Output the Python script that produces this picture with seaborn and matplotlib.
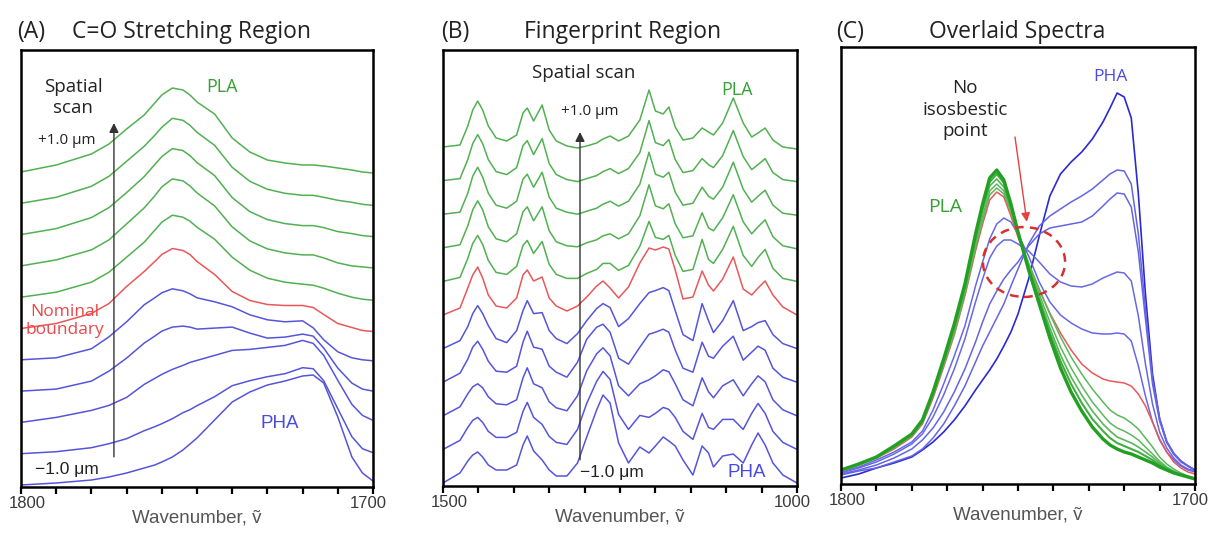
import matplotlib
matplotlib.use("Agg")
import matplotlib.pyplot as plt
from matplotlib.patches import Ellipse
from matplotlib.transforms import ScaledTranslation
import seaborn as sns
import pandas as pd

# ---------------- data ----------------
# (A) C=O stretching region, stacked spectra, heights above each trace's own baseline
wn_a = [1800, 1790, 1780, 1775, 1770, 1765, 1762, 1760, 1757, 1754, 1752, 1750,
        1745, 1740, 1735, 1730, 1725, 1720, 1717, 1714, 1710, 1706, 1703, 1700]
a_pha_1 = [0, 2, 5, 8, 12, 17, 20, 23, 28, 35, 41, 47, 65, 83, 93, 100, 104, 109, 110, 102, 68, 28, 12, 4]
a_pha_2 = [0, 2, 6, 10, 15, 23, 27, 30, 35, 41, 44, 48, 57, 68, 73, 77, 80, 86, 85, 73, 45, 17, 5, 1]
a_pha_3 = [0, 5, 12, 17, 25, 38, 44, 48, 53, 57, 60, 62, 67, 72, 73, 75, 77, 82, 79, 67, 42, 18, 7, 2]
a_pha_4 = [0, 2, 10, 20, 33, 48, 55, 60, 64, 65, 64, 62, 63, 64, 58, 53, 54, 57, 55, 43, 23, 8, 2, 0]
a_pha_5 = [0, 2, 11, 23, 38, 55, 62, 67, 71, 69, 66, 62, 58, 53, 45, 40, 38, 39, 32, 20, 8, 2, 0, -1]
a_bound = [0, 5, 15, 25, 42, 57, 67, 74, 80, 78, 74, 67, 54, 37, 28, 24, 23, 23, 21, 14, 5, 1, -2, -3]
a_pla_1 = [0, 5, 15, 25, 40, 55, 67, 75, 82, 80, 76, 70, 58, 40, 27, 19, 15, 13, 12, 9, 4, 0, -2, -3]
a_pla_2 = [0, 6, 16, 26, 42, 58, 70, 79, 87, 85, 80, 73, 60, 39, 25, 17, 13, 11, 11, 8, 3, 0, -1, -2]
a_pla_3 = [0, 6, 17, 27, 42, 58, 70, 78, 86, 84, 79, 72, 59, 37, 23, 15, 11, 9, 9, 7, 3, 1, -1, -2]
a_pla_4 = [0, 6, 17, 27, 42, 57, 68, 76, 85, 83, 78, 71, 58, 36, 22, 14, 10, 8, 8, 6, 3, 1, -1, -2]
a_pla_5 = [0, 7, 18, 28, 43, 57, 69, 77, 84, 82, 77, 70, 58, 34, 20, 12, 9, 7, 7, 6, 4, 2, 0, -1]

# (B) fingerprint region, stacked spectra
wn_b = [1500, 1476, 1465, 1458, 1451, 1444, 1436, 1425, 1410, 1396, 1387, 1381, 1372, 1360, 1350,
        1340, 1325, 1310, 1297, 1283, 1274, 1264, 1252, 1238, 1222, 1209, 1200, 1189, 1181, 1172,
        1161, 1147, 1134, 1125, 1118, 1105, 1090, 1076, 1064, 1055, 1045, 1034, 1020, 1000]
b_pha_1 = [0, 10, 22, 28, 31, 26, 18, 13, 13, 18, 38, 47, 32, 23, 13, 7, 7, 20, 46, 73, 88, 80,
           40, 20, 36, 30, 37, 46, 42, 37, 23, 8, 37, 30, 16, 27, 29, 20, 38, 50, 38, 20, 8, 0]
b_pha_2 = [0, 9, 22, 29, 32, 27, 18, 12, 12, 17, 38, 47, 32, 25, 13, 7, 5, 20, 46, 68, 78, 70,
           35, 20, 34, 32, 36, 42, 40, 32, 18, 10, 36, 22, 20, 30, 30, 20, 36, 46, 36, 18, 7, 0]
b_pha_3 = [0, 9, 22, 29, 32, 28, 19, 12, 11, 16, 38, 48, 32, 28, 14, 8, 5, 20, 45, 62, 68, 60,
           30, 20, 32, 36, 40, 46, 44, 32, 16, 10, 38, 24, 18, 30, 36, 20, 32, 40, 34, 16, 6, 0]
b_pha_4 = [0, 9, 23, 35, 41, 33, 21, 11, 10, 16, 40, 51, 35, 33, 16, 10, 5, 20, 43, 55, 58, 50,
           24, 18, 35, 48, 50, 53, 50, 32, 14, 10, 40, 26, 24, 36, 46, 22, 30, 36, 32, 14, 5, 0]
b_pha_5 = [0, 8, 22, 35, 43, 35, 23, 10, 6, 18, 38, 48, 35, 36, 18, 10, 5, 15, 28, 40, 45, 41,
           22, 30, 45, 56, 58, 61, 58, 38, 14, 8, 45, 28, 16, 28, 48, 18, 22, 26, 28, 14, 5, 0]
b_bound = [0, 7, 27, 40, 48, 37, 20, 9, 7, 17, 40, 45, 34, 38, 17, 9, 4, 9, 18, 29, 34, 27,
           17, 28, 52, 67, 65, 68, 66, 45, 16, 18, 44, 30, 24, 36, 58, 26, 20, 27, 34, 20, 8, 0]
b_pla_1 = [0, 4, 23, 38, 46, 37, 21, 9, 7, 15, 36, 41, 28, 40, 17, 7, 3, 3, 8, 12, 18, 18,
           11, 16, 35, 60, 44, 42, 46, 26, 10, 12, 42, 22, 18, 32, 55, 26, 15, 24, 32, 13, 3, 0]
b_pla_2 = [0, 3, 22, 38, 47, 38, 21, 9, 6, 14, 36, 41, 27, 41, 17, 6, 2, 1, 5, 8, 12, 14,
           9, 14, 32, 63, 42, 39, 44, 24, 10, 12, 35, 20, 17, 30, 53, 26, 14, 21, 28, 11, 2, -1]
b_pla_3 = [0, 2, 21, 38, 47, 37, 21, 9, 6, 13, 35, 40, 27, 42, 17, 6, 2, 0, 3, 6, 10, 13,
           8, 13, 30, 62, 40, 37, 42, 22, 9, 11, 27, 18, 15, 27, 52, 25, 12, 18, 24, 9, 1, -1]
b_pla_4 = [0, 2, 21, 37, 46, 37, 21, 9, 6, 13, 35, 40, 26, 42, 17, 6, 1, -1, 2, 5, 9, 12,
           7, 12, 28, 60, 38, 35, 41, 21, 8, 10, 22, 16, 13, 25, 50, 24, 11, 16, 22, 8, 1, -1]
b_pla_5 = [0, 2, 21, 37, 46, 37, 21, 9, 6, 12, 34, 39, 26, 42, 17, 6, 1, -1, 1, 4, 8, 11,
           6, 11, 27, 57, 36, 33, 40, 20, 7, 9, 19, 15, 12, 24, 49, 24, 10, 14, 19, 7, 0, -2]

# (C) overlaid spectra, absolute heights
wn_c = [1800, 1795, 1790, 1785, 1780, 1777, 1774, 1771, 1768, 1765, 1762, 1760, 1758,
        1756, 1754, 1752, 1750, 1747, 1744, 1741, 1738, 1735, 1732, 1729, 1726, 1724,
        1722, 1720, 1718, 1716, 1714, 1712, 1710, 1708, 1706, 1704, 1702, 1700]
c_pha_1 = [6, 10, 16, 21, 27, 34, 42, 52, 64, 78, 94, 104, 114, 125, 138, 152, 170, 205, 248,
           288, 310, 322, 332, 345, 362, 376, 391, 387, 366, 290, 190, 110, 65, 42, 30, 23, 18, 14]
c_pha_2 = [9, 13, 16, 22, 28, 35, 46, 60, 78, 98, 122, 138, 152, 166, 180, 198, 215, 240, 258,
           268, 275, 282, 288, 295, 304, 310, 314, 313, 300, 250, 175, 105, 66, 43, 31, 23, 18, 14]
c_pha_3 = [10, 14, 19, 26, 35, 44, 56, 72, 92, 115, 142, 162, 180, 193, 205, 214, 222, 238, 250,
           256, 258, 260, 262, 268, 278, 285, 291, 290, 277, 232, 165, 100, 63, 42, 30, 22, 18, 14]
c_pha_4 = [11, 16, 22, 30, 40, 50, 67, 89, 115, 145, 182, 205, 226, 238, 244, 244, 240, 233, 222,
           210, 202, 198, 197, 200, 206, 209, 212, 211, 203, 168, 120, 80, 52, 36, 26, 19, 15, 13]
c_pha_5 = [12, 17, 24, 32, 42, 53, 74, 100, 128, 158, 198, 222, 245, 260, 266, 262, 250, 228, 202,
           182, 169, 161, 155, 151, 150, 150, 151, 150, 143, 118, 88, 62, 44, 32, 24, 18, 14, 12]
c_bound = [13, 19, 26, 35, 47, 60, 86, 117, 149, 188, 233, 260, 284, 292, 287, 268, 247, 220, 194,
           171, 151, 134, 120, 111, 105, 103, 102, 101, 98, 90, 78, 62, 45, 32, 22, 16, 12, 10]
c_pla_1 = [13, 19, 26, 36, 48, 61, 88, 119, 151, 190, 236, 264, 289, 296, 290, 272, 250, 221, 195,
           170, 147, 127, 110, 95, 82, 74, 69, 66, 61, 55, 46, 37, 27, 20, 15, 11, 8, 6]
c_pla_2 = [13, 19, 27, 37, 49, 62, 89, 121, 154, 193, 240, 268, 293, 300, 293, 274, 250, 218, 190,
           162, 137, 116, 98, 82, 69, 61, 56, 53, 49, 44, 37, 30, 23, 17, 13, 10, 7, 5]
c_pla_3 = [14, 20, 27, 37, 49, 62, 90, 122, 156, 196, 244, 273, 298, 305, 297, 276, 250, 216, 186,
           156, 129, 107, 89, 73, 60, 53, 47, 44, 41, 37, 32, 27, 21, 16, 12, 9, 7, 5]
c_pla_4 = [14, 20, 27, 38, 50, 63, 91, 124, 158, 198, 247, 277, 302, 310, 301, 278, 251, 215, 183,
           151, 123, 100, 81, 65, 53, 46, 41, 38, 35, 32, 28, 24, 19, 15, 12, 9, 7, 5]
c_pla_5 = [14, 20, 27, 38, 50, 64, 92, 125, 160, 200, 250, 280, 306, 314, 304, 280, 252, 214, 180,
           146, 116, 92, 73, 57, 45, 39, 35, 32, 30, 27, 24, 21, 17, 14, 11, 9, 7, 5]

GREEN = "#52b052"
RED = "#e8585a"
BLUE = "#5555dc"
TXT_GREEN = "#36a036"
TXT_BLUE = "#4a4ae0"
TXT_RED = "#e8484a"

sns.set_style("white")
plt.rcParams["font.family"] = ["Open Sans", "DejaVu Sans"]
SANS = ["Liberation Sans", "DejaVu Sans"]

fig = plt.figure(figsize=(12.12, 5.39), dpi=100)
ax_a = fig.add_axes([21 / 1212, 52 / 539, 352 / 1212, 437 / 539])
ax_b = fig.add_axes([443 / 1212, 53 / 539, 354 / 1212, 436 / 539])
ax_c = fig.add_axes([841 / 1212, 55 / 539, 354 / 1212, 437 / 539])


def draw_traces(ax, wn, traces, colors, widths, step, base0):
    rows = []
    for i, h in enumerate(traces):
        for w, v in zip(wn, h):
            rows.append({"wn": w, "y": base0 + step * i + v, "trace": i})
    df = pd.DataFrame(rows)
    for i in range(len(traces)):
        sns.lineplot(data=df[df.trace == i], x="wn", y="y", color=colors[i],
                     linewidth=widths[i], estimator=None, sort=False, ax=ax)


def style_axis(ax, lo, hi, step):
    ticks = list(range(hi, lo - 1, -step))
    labels = [""] * len(ticks)
    labels[0] = str(hi)
    labels[-1] = str(lo)
    ax.set_xlim(hi, lo)
    ax.set_xticks(ticks)
    ax.set_xticklabels(labels, family=SANS)
    ax.set_yticks([])
    ax.set_ylabel("")
    ax.tick_params(axis="x", direction="out", length=5, width=1.6, color="black",
                   labelsize=12, labelcolor="#3a3a3a", pad=1.5, bottom=True)
    for s in ax.spines.values():
        s.set_color("black")
        s.set_linewidth(1.8)
    ax.set_xlabel("Wavenumber, ṽ", fontsize=13.5, color="#555555", labelpad=-1, family=SANS)
    # end labels sit a little inward of their ticks in the original
    tl = ax.get_xticklabels()
    tl[0].set_transform(tl[0].get_transform() + ScaledTranslation(0.06, 0, fig.dpi_scale_trans))
    tl[-1].set_transform(tl[-1].get_transform() + ScaledTranslation(-0.045, 0, fig.dpi_scale_trans))


stack_colors = [BLUE] * 5 + [RED] + [GREEN] * 5
stack_widths = [1.1] * 11

# panel A
draw_traces(ax_a, wn_a, [a_pha_1, a_pha_2, a_pha_3, a_pha_4, a_pha_5, a_bound,
                         a_pla_1, a_pla_2, a_pla_3, a_pla_4, a_pla_5],
            stack_colors, stack_widths, 31.3, 2)
ax_a.set_ylim(0, 437)
style_axis(ax_a, 1700, 1800, 10)

# panel B
draw_traces(ax_b, wn_b, [b_pha_1, b_pha_2, b_pha_3, b_pha_4, b_pha_5, b_bound,
                         b_pla_1, b_pla_2, b_pla_3, b_pla_4, b_pla_5],
            stack_colors, stack_widths, 33.6, 3)
ax_b.set_ylim(0, 436)
style_axis(ax_b, 1000, 1500, 50)

# panel C (no offset)
c_colors = ["#2a2ad2", "#6464e4", "#6464e4", "#6868e6", "#6868e6", RED,
            "#5cb85c", "#5cb85c", "#58b658", "#44ac44", "#22a022"]
c_widths = [1.2, 1.1, 1.1, 1.1, 1.1, 1.1, 1.1, 1.1, 1.2, 1.5, 2.4]
draw_traces(ax_c, wn_c, [c_pha_1, c_pha_2, c_pha_3, c_pha_4, c_pha_5, c_bound,
                         c_pla_1, c_pla_2, c_pla_3, c_pla_4, c_pla_5],
            c_colors, c_widths, 0, 0)
ax_c.set_ylim(0, 437)
style_axis(ax_c, 1700, 1800, 10)

# titles
ty = 1 - 32 / 539
tkw = dict(fontsize=16.5, va="center", color="#222")
fig.text(17 / 1212, ty, "(A)", ha="left", **tkw)
fig.text(192 / 1212, ty, "C=O Stretching Region", ha="center", **tkw)
fig.text(441 / 1212, ty, "(B)", ha="left", **tkw)
fig.text(623 / 1212, ty, "Fingerprint Region", ha="center", **tkw)
fig.text(836 / 1212, ty, "(C)", ha="left", **tkw)
fig.text(1017 / 1212, ty, "Overlaid Spectra", ha="center", **tkw)

arrow_kw = dict(arrowstyle="-|>", color="#333333", lw=1.0, mutation_scale=14, shrinkA=0, shrinkB=0)

# annotations panel A
ax_a.text(0.148, 0.892, "Spatial\nscan", transform=ax_a.transAxes, fontsize=13.5, ha="center",
          va="center", color="#222", linespacing=1.2)
ax_a.text(0.131, 0.792, "+1.0 μm", transform=ax_a.transAxes, fontsize=11, ha="center",
          va="center", color="#222")
ax_a.annotate("", xy=(0.264, 0.833), xytext=(0.264, 0.069), xycoords="axes fraction",
              arrowprops=arrow_kw)
ax_a.text(0.571, 0.915, "PLA", transform=ax_a.transAxes, fontsize=13, ha="center",
          va="center", color=TXT_GREEN)
ax_a.text(0.125, 0.380, "Nominal\nboundary", transform=ax_a.transAxes, fontsize=12.5,
          ha="center", va="center", color=TXT_RED, linespacing=1.15)
ax_a.text(0.736, 0.146, "PHA", transform=ax_a.transAxes, fontsize=13.5, ha="center",
          va="center", color=TXT_BLUE, family=SANS)
ax_a.text(0.131, 0.039, "−1.0 μm", transform=ax_a.transAxes, fontsize=12.5, ha="center",
          va="center", color="#222", family=SANS)

# annotations panel B
ax_b.text(0.398, 0.947, "Spatial scan", transform=ax_b.transAxes, fontsize=13.5, ha="center",
          va="center", color="#222")
ax_b.text(0.415, 0.860, "+1.0 μm", transform=ax_b.transAxes, fontsize=11, ha="center",
          va="center", color="#222")
ax_b.annotate("", xy=(0.387, 0.812), xytext=(0.387, 0.060), xycoords="axes fraction",
              arrowprops=arrow_kw)
ax_b.text(0.831, 0.908, "PLA", transform=ax_b.transAxes, fontsize=13, ha="center",
          va="center", color=TXT_GREEN)
ax_b.text(0.477, 0.030, "−1.0 μm", transform=ax_b.transAxes, fontsize=12.5, ha="center",
          va="center", color="#222", family=SANS)
ax_b.text(0.859, 0.032, "PHA", transform=ax_b.transAxes, fontsize=13.5, ha="center",
          va="center", color=TXT_BLUE, family=SANS)

# annotations panel C
ax_c.text(0.350, 0.856, "No\nisosbestic\npoint", transform=ax_c.transAxes, fontsize=13.5,
          ha="center", va="center", color="#222", linespacing=1.25)
ax_c.text(0.294, 0.634, "PLA", transform=ax_c.transAxes, fontsize=14, ha="center",
          va="center", color=TXT_GREEN)
ax_c.text(0.760, 0.931, "PHA", transform=ax_c.transAxes, fontsize=12.5, ha="center",
          va="center", color=TXT_BLUE)
ax_c.annotate("", xy=(0.525, 0.600), xytext=(0.4915, 0.794), xycoords="axes fraction",
              arrowprops=dict(arrowstyle="-|>", color="#e84040", lw=1.0, mutation_scale=13,
                              shrinkA=0, shrinkB=0))
ax_c.add_patch(Ellipse((0.517, 0.508), 0.232, 0.160, transform=ax_c.transAxes, fill=False,
                       edgecolor="#d83030", lw=1.8, linestyle=(0, (3.5, 2.5)), zorder=5))

fig.savefig("out.png", dpi=100)
